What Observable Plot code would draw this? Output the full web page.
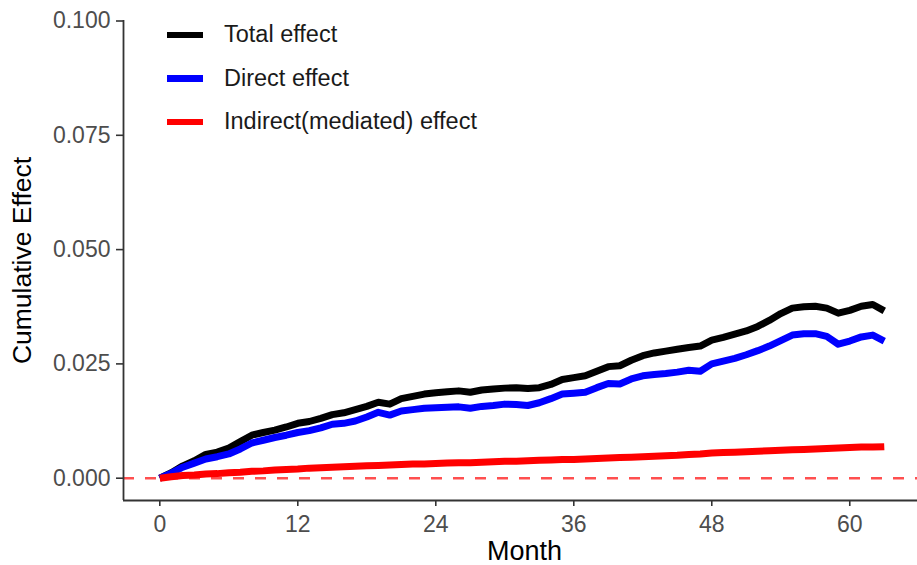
<!DOCTYPE html>
<html>
<head>
<meta charset="utf-8">
<script src="https://cdn.jsdelivr.net/npm/d3@7"></script>
<script src="https://cdn.jsdelivr.net/npm/@observablehq/plot@0.6"></script>
<style>
  html, body { margin: 0; padding: 0; background: #fff; }
  #wrap { position: relative; width: 917px; height: 565px; font-family: "Liberation Sans", Arial, sans-serif; }
  #legend { position: absolute; left: 167px; top: 13px; }
  .item { display: flex; align-items: center; height: 43.5px; }
  .key { width: 36px; height: 6.5px; margin-right: 21px; }
  .lab { font-size: 23.5px; color: #1a1a1a; }
</style>
</head>
<body>
<div id="wrap"><div id="legend"></div></div>
<script>
const months = d3.range(0, 64);
const seriesNames = ["Total effect", "Direct effect", "Indirect(mediated) effect"];
const seriesColors = ["#000000", "#0000ff", "#ff0000"];
const totalEffect = [
  0.0000, 0.0012, 0.0027, 0.0038, 0.0052, 0.0057, 0.0066, 0.0080, 0.0094, 0.0100,
  0.0105, 0.0112, 0.0120, 0.0124, 0.0131, 0.0139, 0.0143, 0.0150, 0.0157, 0.0166,
  0.0162, 0.0174, 0.0179, 0.0184, 0.0187, 0.0189, 0.0191, 0.0188, 0.0193, 0.0195,
  0.0197, 0.0198, 0.0196, 0.0198, 0.0205, 0.0216, 0.0220, 0.0224, 0.0234, 0.0244,
  0.0246, 0.0258, 0.0268, 0.0274, 0.0278, 0.0282, 0.0286, 0.0289, 0.0302, 0.0308,
  0.0315, 0.0322, 0.0332, 0.0345, 0.0360, 0.0372, 0.0375, 0.0376, 0.0372, 0.0361,
  0.0367, 0.0376, 0.0380, 0.0366
];
const directEffect = [
  0.0000, 0.0011, 0.0024, 0.0033, 0.0042, 0.0047, 0.0053, 0.0064, 0.0077, 0.0083,
  0.0089, 0.0094, 0.0100, 0.0104, 0.0110, 0.0118, 0.0120, 0.0125, 0.0134, 0.0144,
  0.0138, 0.0147, 0.0150, 0.0153, 0.0154, 0.0155, 0.0156, 0.0153, 0.0157, 0.0159,
  0.0162, 0.0161, 0.0159, 0.0165, 0.0174, 0.0184, 0.0186, 0.0188, 0.0198, 0.0207,
  0.0206, 0.0217, 0.0224, 0.0227, 0.0229, 0.0232, 0.0236, 0.0234, 0.0250, 0.0256,
  0.0262, 0.0270, 0.0279, 0.0289, 0.0301, 0.0313, 0.0316, 0.0316, 0.0310, 0.0293,
  0.0300, 0.0309, 0.0313, 0.0300
];
const indirectEffect = [
  0.0000, 0.0003, 0.0006, 0.0007, 0.0009, 0.0010, 0.0012, 0.0013, 0.0015, 0.0016,
  0.0018, 0.0019, 0.0020, 0.0022, 0.0023, 0.0024, 0.0025, 0.0026, 0.0027, 0.0028,
  0.0029, 0.0030, 0.0031, 0.0031, 0.0032, 0.0033, 0.0034, 0.0034, 0.0035, 0.0036,
  0.0037, 0.0037, 0.0038, 0.0039, 0.0040, 0.0041, 0.0041, 0.0042, 0.0043, 0.0044,
  0.0045, 0.0046, 0.0047, 0.0048, 0.0049, 0.0050, 0.0052, 0.0053, 0.0055, 0.0056,
  0.0057, 0.0058, 0.0059, 0.0060, 0.0061, 0.0062, 0.0063, 0.0064, 0.0065, 0.0066,
  0.0067, 0.0068, 0.0068, 0.0069
];
const xTicks = [0, 12, 24, 36, 48, 60];
const yTicks = [0, 0.025, 0.05, 0.075, 0.1];
const xDomain = [-3.157, 65.89];
const yDomain = [-0.00488, 0.10011];

const allSeries = [totalEffect, directEffect, indirectEffect];
const rows = [];
allSeries.forEach((vals, si) => months.forEach((m, i) => rows.push({month: m, value: vals[i], series: seriesNames[si]})));

const tickColor = "#333333";
const chart = Plot.plot({
  width: 917,
  height: 565,
  marginTop: 20,
  marginBottom: 65,
  marginLeft: 123,
  marginRight: 0,
  style: {fontFamily: "'Liberation Sans', Arial, sans-serif", background: "#fff", overflow: "visible"},
  x: {domain: xDomain},
  y: {domain: yDomain},
  color: {domain: seriesNames, range: seriesColors},
  marks: [
    Plot.ruleY([0], {stroke: "#ff3030", strokeOpacity: 0.85, strokeWidth: 2.6, strokeDasharray: "11,11"}),
    Plot.line(rows, {x: "month", y: "value", z: "series", stroke: "series", strokeWidth: 7, strokeLinecap: "butt", strokeLinejoin: "round"}),
    Plot.ruleX([xDomain[0]], {stroke: tickColor, strokeWidth: 1.8}),
    Plot.ruleY([yDomain[0]], {stroke: tickColor, strokeWidth: 1.8}),
    Plot.axisX({ticks: xTicks, tickFormat: d3.format("d"), tickSize: 6, tickPadding: 9, fontSize: 23, fill: "#4d4d4d", stroke: tickColor, strokeWidth: 1.6, label: null}),
    Plot.axisY({ticks: yTicks, tickFormat: d3.format(".3f"), tickSize: 7, tickPadding: 6, fontSize: 23, fill: "#4d4d4d", stroke: tickColor, strokeWidth: 1.6, label: null}),
    Plot.text(["Month"], {frameAnchor: "bottom", dy: 40, lineAnchor: "top", fontSize: 27, fill: "#000", dx: 4}),
    Plot.text(["Cumulative Effect"], {frameAnchor: "left", dx: -101, rotate: -90, textAnchor: "middle", lineAnchor: "middle", fontSize: 26.5, fill: "#000"})
  ]
});
document.getElementById("wrap").prepend(chart);

const legend = document.getElementById("legend");
seriesNames.forEach((name, i) => {
  const item = document.createElement("div");
  item.className = "item";
  const key = document.createElement("div");
  key.className = "key";
  key.style.background = seriesColors[i];
  const lab = document.createElement("span");
  lab.className = "lab";
  lab.textContent = name;
  item.appendChild(key);
  item.appendChild(lab);
  legend.appendChild(item);
});
</script>
</body>
</html>
